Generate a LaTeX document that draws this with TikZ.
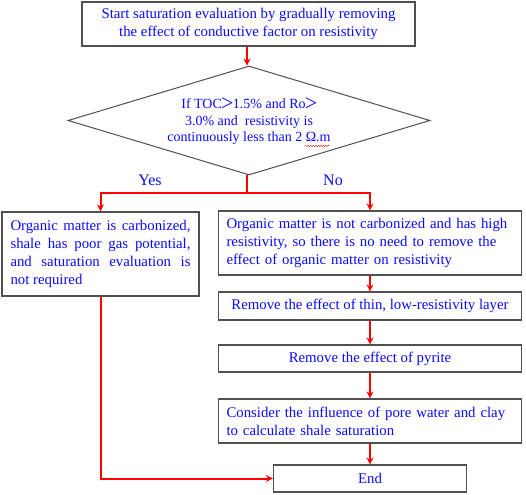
\documentclass[tikz,border=0pt]{standalone}
\usepackage{fontspec}
\setmainfont{Liberation Serif}
\newfontfamily\cjk{Noto Sans CJK SC}
\usetikzlibrary{shapes.geometric,arrows.meta,decorations.pathmorphing}
\definecolor{boxgray}{HTML}{505050}
\definecolor{txtblue}{HTML}{0A0AFF}
\newcommand{\fwgt}{\kern-1.5pt{\cjk ＞}\kern-1.5pt}
\begin{document}
\begin{tikzpicture}[x=1pt,y=-1pt,
  txt/.style={text=txtblue, inner sep=0pt, font=\fontsize{14.8}{18}\selectfont},
  box/.style={txt, draw=boxgray, line width=1.2pt},
  redline/.style={draw=red, line width=2pt},
  flow/.style={redline, -{Stealth[length=7pt,width=7pt]}},
  lbl/.style={text=txtblue, font=\fontsize{16}{18}\selectfont, inner sep=0pt}]
\useasboundingbox (0,0) rectangle (526,494);
\node[box, minimum width=333pt, minimum height=44pt, align=center] (start) at (248.5,24)
  {Start saturation evaluation by gradually removing\\the effect of conductive factor on resistivity};
\node[draw=boxgray, line width=1pt, diamond, minimum width=362pt, minimum height=109pt, inner sep=0pt] (dec) at (249,120.5) {};
\node[txt, align=center, font=\fontsize{14}{16.5}\selectfont] (dectext) at ([yshift=-1pt]dec.center)
  {If TOC\fwgt 1.5\% and Ro\fwgt\\3.0\% and\ \ resistivity is\\continuously less than 2 Ω.m};
\draw[red, line width=0.4pt, decorate, decoration={snake, amplitude=0.7pt, segment length=2.5pt}] (305,146) -- (330,146);
\node[box, minimum width=197pt, minimum height=84pt, align=left] (left) at (100.5,254)
  {\makebox[180pt][s]{Organic matter is carbonized,}\\\makebox[180pt][s]{shale has poor gas potential,}\\\makebox[180pt][s]{and saturation evaluation is}\\not required};
\node[box, minimum width=303pt, minimum height=64pt, text width=287pt, align=left] (right) at (370,243)
  {Organic matter is not carbonized and has high\\resistivity, so there is no need to remove the\\effect of organic matter on resistivity};
\node[box, minimum width=303pt, minimum height=28pt, align=center] (thin) at (370,306)
  {Remove the effect of thin, low-resistivity layer};
\node[box, minimum width=303pt, minimum height=27pt, align=center] (pyrite) at (370,358.5)
  {Remove the effect of pyrite};
\node[box, minimum width=303pt, minimum height=44pt, text width=287pt, align=left] (consider) at (370,421)
  {Consider the influence of pore water and clay\\to calculate shale saturation};
\node[box, minimum width=193pt, minimum height=27pt, align=center] (end) at (370,478.5) {End};
\node[lbl] (yes) at (150,180) {Yes};
\node[lbl] (no) at (333,180) {No};
\draw[flow] (start.south -| 247,0) -- (dec.north -| 247,0);
\draw[redline] (dec.south -| 247,0) -- (247,193) coordinate (sp);
\draw[flow] (sp) -| (left.north);
\draw[flow] (sp) -| (right.north);
\draw[flow] (right) -- (thin);
\draw[flow] (thin) -- (pyrite);
\draw[flow] (pyrite) -- (consider);
\draw[flow] (consider) -- (end);
\draw[flow] (left.south) |- (end.west);
\end{tikzpicture}
\end{document}
